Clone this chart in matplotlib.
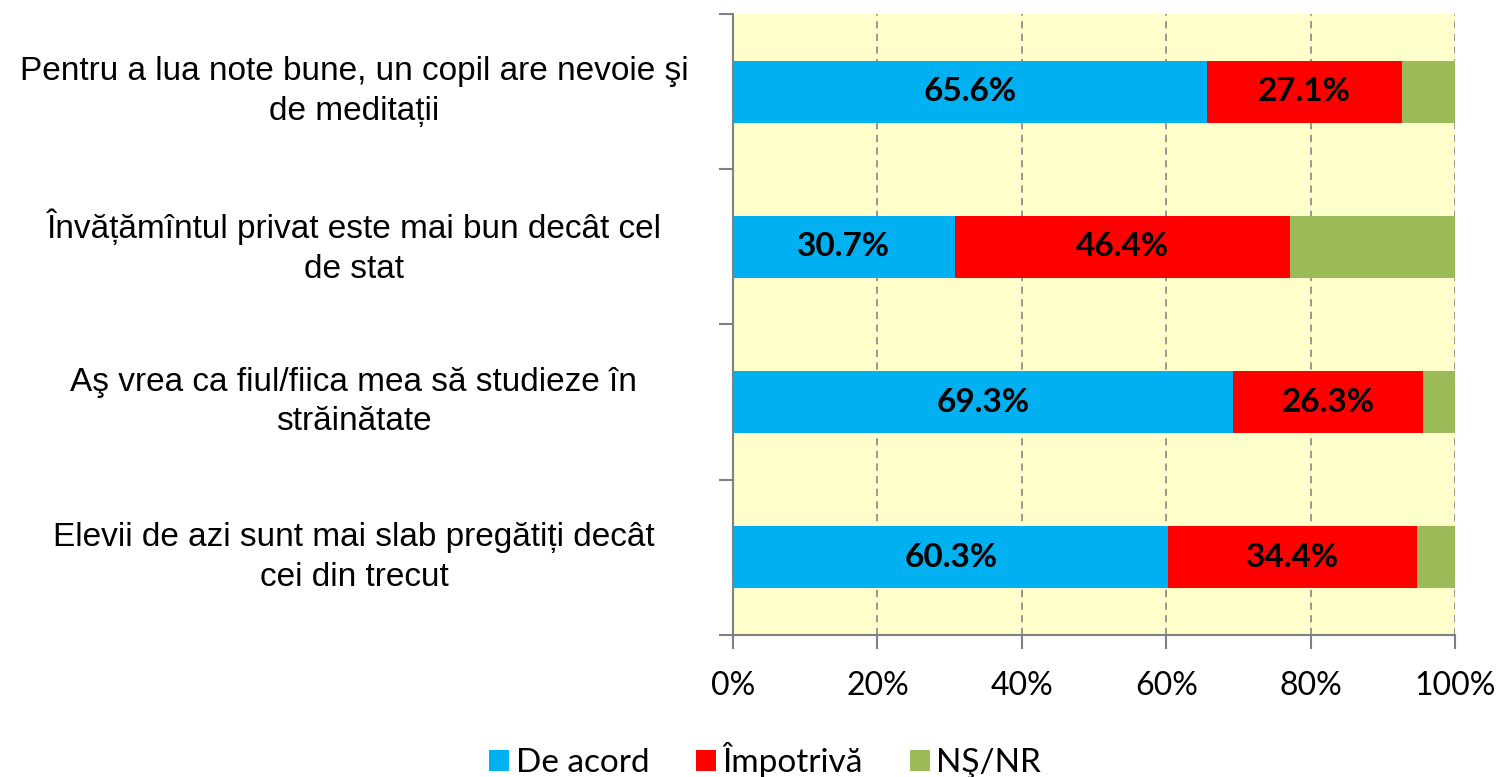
import matplotlib

matplotlib.use("Agg")
import matplotlib.pyplot as plt
import numpy as np

# Data (percentages)
categories = [
    "Pentru a lua note bune, un copil are nevoie şi\nde meditații",
    "Învățămîntul privat este mai bun decât cel\nde stat",
    "Aş vrea ca fiul/fiica mea să studieze în\nstrăinătate",
    "Elevii de azi sunt mai slab pregătiți decât\ncei din trecut",
]
de_acord = [65.6, 30.7, 69.3, 60.3]
impotriva = [27.1, 46.4, 26.3, 34.4]
ns_nr = [7.3, 22.9, 4.4, 5.3]
series_names = ["De acord", "Împotrivă", "NŞ/NR"]
colors = ["#00B0F0", "#FF0000", "#9BBB59"]

fig = plt.figure(figsize=(15, 7.77), dpi=100)
ax = fig.add_axes([0.4887, 0.1828, 0.4813, 0.7992])
ax.set_facecolor("#FFFFCC")

y = np.arange(len(categories))[::-1]
left = np.zeros(len(categories))
bars = []
for vals, name, col in zip([de_acord, impotriva, ns_nr], series_names, colors):
    b = ax.barh(y, vals, left=left, height=0.4, color=col, label=name, zorder=3)
    bars.append(b)
    left = left + np.array(vals)

# data labels for first two series
for b, vals in zip(bars[:2], [de_acord, impotriva]):
    for rect, v in zip(b, vals):
        cx = rect.get_x() + rect.get_width() / 2
        cy = rect.get_y() + rect.get_height() / 2
        ax.text(cx, cy, f"{v:.1f}%", ha="center", va="center",
                fontsize=24, fontweight="bold", family="Lato", zorder=4)

ax.set_xlim(0, 100)
ax.set_ylim(-0.5, len(categories) - 0.5)
ax.set_xticks(np.arange(0, 101, 20))
ax.set_xticklabels([f"{t}%" for t in range(0, 101, 20)], family="Lato", fontsize=23)
ax.xaxis.grid(True, linestyle=(0, (4, 3)), color="#909090", linewidth=1.3, zorder=1)

ax.set_yticks(y)
ax.set_yticklabels(categories, family="Liberation Sans", fontsize=24,
                   ha="center", va="center", linespacing=1.35)
ax.tick_params(axis="y", which="major", length=0, pad=273)
ax.set_yticks(np.arange(-0.5, len(categories), 1), minor=True)
ax.tick_params(axis="y", which="minor", length=10, color="#808080", width=1.5)
ax.tick_params(axis="x", length=10, color="#808080", width=1.5, pad=16)

for s in ["top", "right"]:
    ax.spines[s].set_visible(False)
for s in ["left", "bottom"]:
    ax.spines[s].set_color("#808080")
    ax.spines[s].set_linewidth(1.5)

leg = fig.legend(loc="lower center", bbox_to_anchor=(0.51, -0.04), ncol=3,
                 frameon=False, prop={"family": "Lato", "size": 24},
                 handlelength=0.6, handleheight=0.6, columnspacing=1.4,
                 handletextpad=0.2)

plt.savefig("out.png", dpi=100)
plt.close()
